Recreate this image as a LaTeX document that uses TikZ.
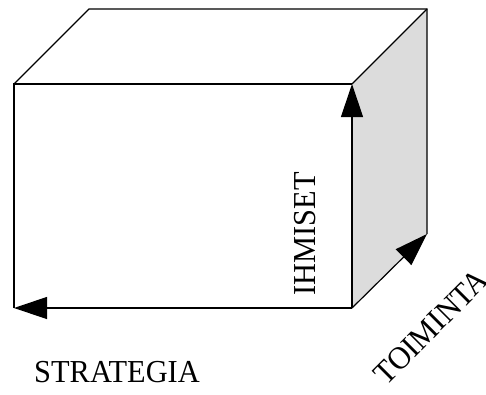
\documentclass[tikz,border=0pt]{standalone}
\usepackage{fontspec}
\setmainfont[FakeStretch=0.95]{Liberation Serif}
\usetikzlibrary{positioning, arrows.meta}
\newcommand{\axisarrow}{-{Triangle[length=33pt,width=22pt]}}
\definecolor{sideface}{RGB}{220,220,220}

\begin{document}
\begin{tikzpicture}[x=1pt, y=-1pt, line width=1.2pt, font=\fontsize{32}{38}\selectfont]
        \useasboundingbox (0,0) rectangle (486,394);
        % corners of the box
        \coordinate (origin) at (352,308);
        \coordinate (topleft) at (14,84);
        \coordinate (topright) at (352,84);
        \coordinate (bottomleft) at (14,308);
        \coordinate (backleft) at (89,9);
        \coordinate (backtop) at (427,9);
        \coordinate (backbottom) at (427,234);
        % side face
        \fill[sideface] (topright) -- (backtop) -- (backbottom) -- (origin) -- cycle;
        \draw (bottomleft) -- (topleft) -- (topright);
        \draw (topleft) -- (backleft) -- (backtop) -- (backbottom);
        \draw (topright) -- (backtop);
        % axes
        \draw[\axisarrow] (origin) -- (topright);
        \draw[\axisarrow] (origin) -- (bottomleft);
        \draw[\axisarrow] (origin) -- (backbottom);
        \node[rotate=90, anchor=base] (ihmiset) at (315,234) {IHMISET};
        \node[anchor=base] (strategia) at (117,382) {STRATEGIA};
        \node[rotate=45] (toiminta) at (431,327) {TOIMINTA};
    \end{tikzpicture}
\end{document}
